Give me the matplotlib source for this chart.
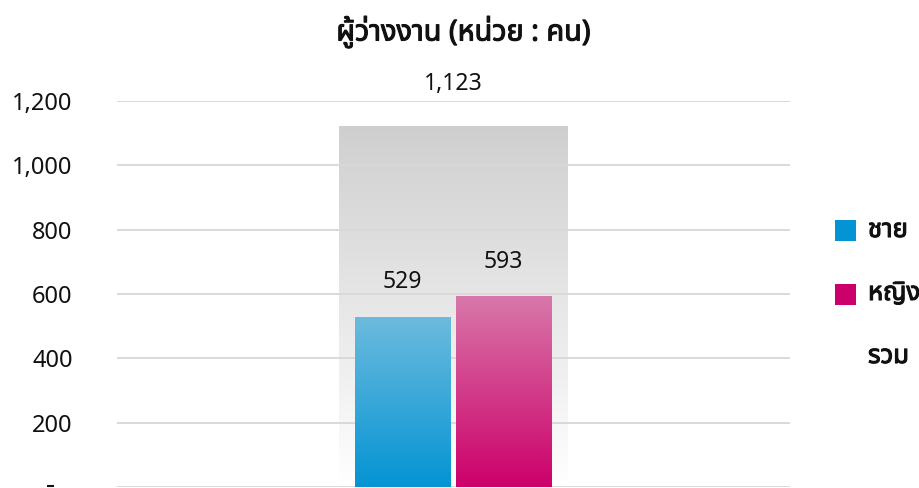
import matplotlib
matplotlib.use("Agg")
import matplotlib.pyplot as plt
import numpy as np
from matplotlib import font_manager
from matplotlib.ft2font import FT2Font
from matplotlib.patches import Rectangle
from matplotlib.colors import LinearSegmentedColormap
from matplotlib.transforms import ScaledTranslation
import matplotlib.patheffects as pe

# ---- data ----
title = "ผู้ว่างงาน (หน่วย : คน)"
series_names = ["ชาย", "หญิง", "รวม"]
series_colors = ["#0494d3", "#cc006a", None]
male_value = [529]
female_value = [593]
total_value = [1123]
value_labels_male = ["529"]
value_labels_female = ["593"]
value_labels_total = ["1,123"]
yticks = [0, 200, 400, 600, 800, 1000, 1200]
ytick_labels = ["-   ", "200", "400", "600", "800", "1,000", "1,200"]

# ---- find a font with Thai glyphs ----
thai_fonts = []
for f in font_manager.fontManager.ttflist:
    try:
        cm = FT2Font(f.fname).get_charmap()
        if 0x0E01 in cm and 0x0E07 in cm:
            thai_fonts.append(f.name)
    except Exception:
        pass
pref = ["Tahoma", "Noto Sans Thai", "Noto Sans Thai UI", "Loma", "Garuda", "Sarabun", "Leelawadee UI"]
chosen = None
for p in pref:
    if p in thai_fonts:
        chosen = p
        break
if chosen is None and thai_fonts:
    chosen = sorted(set(thai_fonts))[0]
families = ([chosen] if chosen else []) + ["DejaVu Sans"]
plt.rcParams['font.family'] = families

TXT = "#111111"
bold_fx = [pe.withStroke(linewidth=0.8, foreground=TXT)]

fig = plt.figure(figsize=(9.19, 4.88), dpi=100)
ax = fig.add_axes([117/919, 1/488, (790-117)/919, (487-101)/488])
ax.set_xlim(-0.5, 0.5)
ax.set_ylim(0, 1200)

def grad_bar(bar, top_color, bottom_color, z):
    x0 = bar.get_x(); w = bar.get_width(); h = bar.get_height(); y0 = bar.get_y()
    cmap = LinearSegmentedColormap.from_list("g", [bottom_color, top_color])
    g = np.linspace(0, 1, 256).reshape(-1, 1)
    im = ax.imshow(g, extent=[x0, x0 + w, y0, y0 + h], origin="lower",
                   aspect="auto", cmap=cmap, zorder=z, interpolation="bilinear")
    im.set_clip_path(bar)

x = np.array([0.0])
tb = ax.bar(x, total_value, width=0.339, color="none", edgecolor="none", zorder=1)
grad_bar(tb[0], "#cfcfcf", "#ffffff", 1)

# gridlines
for t in yticks:
    ax.axhline(t, color="#d9d9d9", lw=1.4, zorder=2)

mb = ax.bar(x - 0.0755, male_value, width=0.142, color="none", edgecolor="none", zorder=3)
grad_bar(mb[0], "#6dbbde", "#0494d3", 3)
fb = ax.bar(x + 0.0745, female_value, width=0.142, color="none", edgecolor="none", zorder=3)
grad_bar(fb[0], "#d877a9", "#cc006a", 3)

ax.set_xlim(-0.5, 0.5)
ax.set_ylim(0, 1200)

# value labels
def label(bars, labels, dy):
    for b, lab in zip(bars, labels):
        ax.annotate(lab, (b.get_x() + b.get_width()/2, b.get_height()), xytext=(0, dy),
                    textcoords="offset points", ha="center", va="baseline",
                    fontsize=16.5, color=TXT)

label(mb, value_labels_male, 20.5)
label(fb, value_labels_female, 20)
label(tb, value_labels_total, 25.5)

ax.set_yticks(yticks)
ax.set_yticklabels(ytick_labels, fontsize=17, color=TXT)
ax.tick_params(axis="y", length=0, pad=32)
ax.set_xticks([])
for s in ax.spines.values():
    s.set_visible(False)
# nudge the zero label up slightly so the dash shows at the bottom edge
zl = ax.get_yticklabels()[0]
zl.set_transform(zl.get_transform() + ScaledTranslation(0, 3/72, fig.dpi_scale_trans))
zl.set_path_effects(bold_fx)

fig.text(463.5/919, 1 - 32.5/488, title, ha="center", va="center", fontsize=20.8,
         color=TXT, path_effects=bold_fx)

# legend (manual layout)
baselines = [237, 300, 363]
for name, col, yb in zip(series_names, series_colors, baselines):
    if col is not None:
        fig.add_artist(Rectangle((835/919, 1 - (yb - 6 + 10.5)/488), 21/919, 21/488,
                                 transform=fig.transFigure, facecolor=col,
                                 edgecolor="none"))
    fig.text(868/919, 1 - yb/488, name, ha="left", va="baseline", fontsize=18.5,
             color=TXT, path_effects=bold_fx)

fig.savefig("out.png", dpi=100)
